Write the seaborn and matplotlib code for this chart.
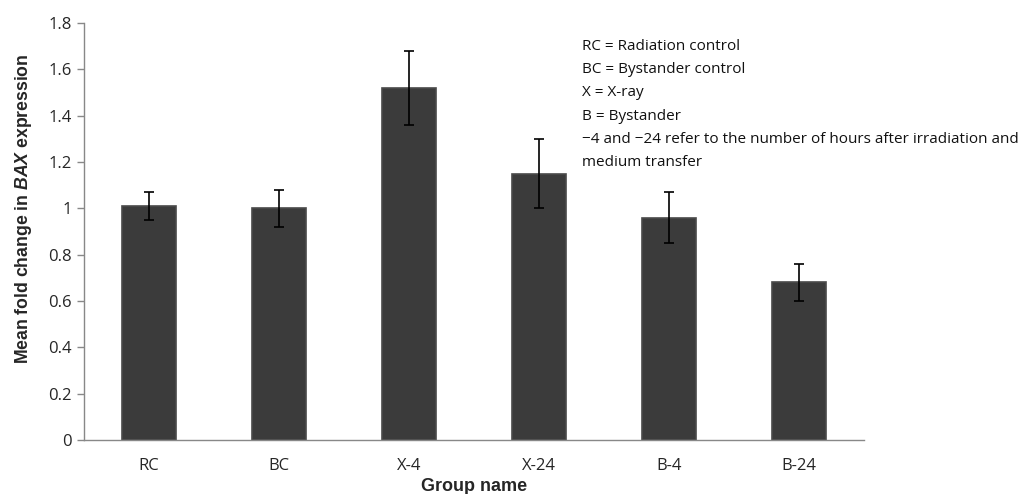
import matplotlib
matplotlib.use("Agg")
import matplotlib.pyplot as plt
import seaborn as sns
import pandas as pd

groups = ["RC", "BC", "X-4", "X-24", "B-4", "B-24"]
means = [1.01, 1.00, 1.52, 1.15, 0.96, 0.68]
errors = [0.06, 0.08, 0.16, 0.15, 0.11, 0.08]
yticks = [0, 0.2, 0.4, 0.6, 0.8, 1.0, 1.2, 1.4, 1.6, 1.8]
ytick_labels = ["0", "0.2", "0.4", "0.6", "0.8", "1", "1.2", "1.4", "1.6", "1.8"]
notes = ["RC = Radiation control", "BC = Bystander control", "X = X-ray", "B = Bystander",
         "\u22124 and \u221224 refer to the number of hours after irradiation and",
         "medium transfer"]

sns.set_theme(style="white")
plt.rcParams["mathtext.fontset"] = "custom"
plt.rcParams["mathtext.bfit"] = "Liberation Sans:bold:italic"
plt.rcParams["mathtext.rm"] = "Liberation Sans:bold"

df = pd.DataFrame({"group": groups, "mean": means})

fig = plt.figure(figsize=(10.27, 4.94), dpi=100)
ax = fig.add_axes([84/1027, 54/494, (864-84)/1027, (440-23)/494])

sns.barplot(data=df, x="group", y="mean", color="#3b3b3b", width=0.41,
            saturation=1, ax=ax, edgecolor="#4a4a4a", linewidth=1.2)
ax.errorbar(range(len(groups)), means, yerr=errors, fmt="none", ecolor="black",
            elinewidth=1.2, capsize=3.5, capthick=1.2)

ax.set_xlim(-0.5, len(groups) - 0.5)
ax.set_ylim(0, 1.8)
ax.set_yticks(yticks)
ax.set_yticklabels(ytick_labels, fontsize=12, family="Open Sans")
ax.set_xticks(range(len(groups)))
ax.set_xticklabels(groups, fontsize=12, family="Open Sans")
ax.tick_params(axis="x", length=0, pad=13)
ax.set_xticks([i + 0.5 for i in range(len(groups) - 1)], minor=True)
ax.tick_params(axis="x", which="minor", length=5, width=1, color="#888888", direction="out")
ax.tick_params(axis="y", length=5, width=1, color="#888888", direction="out", left=True, pad=4)

for s in ["top", "right"]:
    ax.spines[s].set_visible(False)
for s in ["left", "bottom"]:
    ax.spines[s].set_color("#888888")
    ax.spines[s].set_linewidth(1.0)

ax.set_xlabel("Group name", fontsize=13, fontweight="bold", family="Liberation Sans", labelpad=0)
ax.xaxis.set_label_coords((474 - 84) / 780, -(478 - 440) / 417)
ax.set_ylabel(r"Mean fold change in $\mathbfit{BAX}$ expression", fontsize=12.7,
              fontweight="bold", family="Liberation Sans")
ax.yaxis.set_label_coords(-(84 - 34) / 780, (440 - 209) / 417)

for i, line in enumerate(notes):
    fig.text(582/1027, 1 - (46 + i * 23.4)/494, line, fontsize=11.0, family="Open Sans",
             va="center", ha="left", color="#111111")

fig.savefig("out.png", dpi=100)
